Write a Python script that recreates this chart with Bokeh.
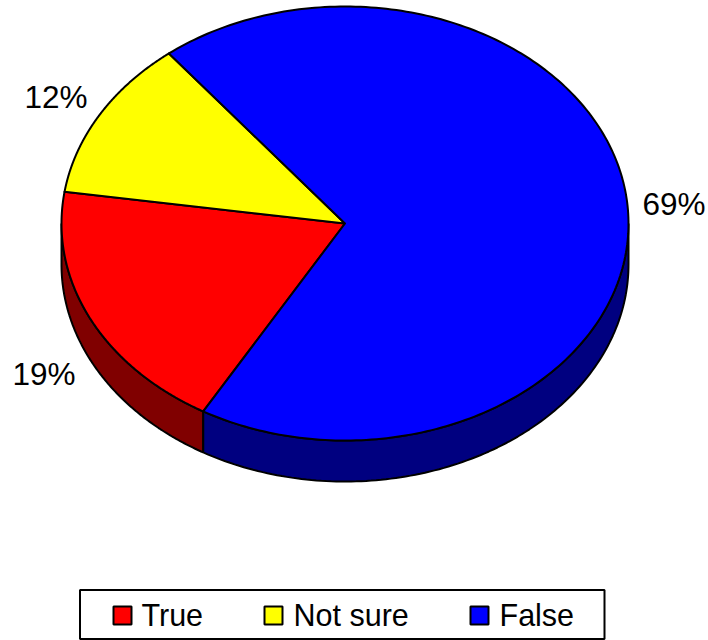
import numpy as np
from bokeh.plotting import figure
from bokeh.models import Range1d
from bokeh.core.properties import value
from bokeh.embed import file_html
from bokeh.resources import INLINE

categories = ["True", "Not sure", "False"]
shares = [19, 12, 69]
top_colors = ["#ff0000", "#ffff00", "#0000ff"]
wall_colors = ["#800000", "#808000", "#000080"]

FIRST_ANGLE = 210.0
CX, CY, RX, RY, DEPTH = 344.5, 223.0, 283.5, 217.0, 41.0
FONT = value("Liberation Sans")

label_x = [12, 24, 642]
label_y = [373, 96, 203]
legend_swatch_x = [113, 264, 470]
legend_text_x = [141, 293, 499]


def rim(a, dy=0.0):
    r = np.radians(a)
    return CX + RX * np.sin(r), CY - RY * np.cos(r) + dy


p = figure(width=708, height=640, output_backend="svg", toolbar_location=None,
           x_range=Range1d(0, 708), y_range=Range1d(640, 0),
           min_border=0, outline_line_color=None, background_fill_color="white",
           border_fill_color="white", margin=(0, 0, 0, 0))
p.axis.visible = False
p.grid.visible = False

starts = FIRST_ANGLE + np.cumsum([0] + shares[:-1]) * 3.6
ends = starts + np.array(shares) * 3.6

# side walls: only the front half of the rim (90..270 degrees clockwise from top)
for s, e, c in zip(starts, ends, wall_colors):
    for lo, hi in ((s, e), (s - 360, e - 360)):
        a0, a1 = max(lo, 90), min(hi, 270)
        if a1 > a0:
            a = np.linspace(a0, a1, 120)
            x0, y0 = rim(a)
            x1, y1 = rim(a[::-1], DEPTH)
            p.patch(np.r_[x0, x1], np.r_[y0, y1], fill_color=c, line_color="black", line_width=2)

# top face
for s, e, c in zip(starts, ends, top_colors):
    a = np.linspace(s, e, 240)
    x, y = rim(a)
    p.patch(np.r_[CX, x, CX], np.r_[CY, y, CY], fill_color=c, line_color="black", line_width=2,
            line_join="round")

# value labels
p.text(label_x, label_y, text=[f"{v}%" for v in shares], text_font=FONT, text_font_size="31.5px",
       text_color="black", text_align="left", text_baseline="alphabetic")

# legend
p.quad(left=[79.5], right=[604], top=[589.5], bottom=[638.5], fill_color="white",
       line_color="black", line_width=2)
p.quad(left=legend_swatch_x, right=[v + 18 for v in legend_swatch_x],
       top=[606] * 3, bottom=[624] * 3, fill_color=top_colors, line_color="black", line_width=2)
p.text(legend_text_x, [614] * 3, text=categories, text_font=FONT, text_font_size="30.5px",
       text_color="black", text_align="left", text_baseline="alphabetic")

open("out.html", "w").write(file_html(p, INLINE))
